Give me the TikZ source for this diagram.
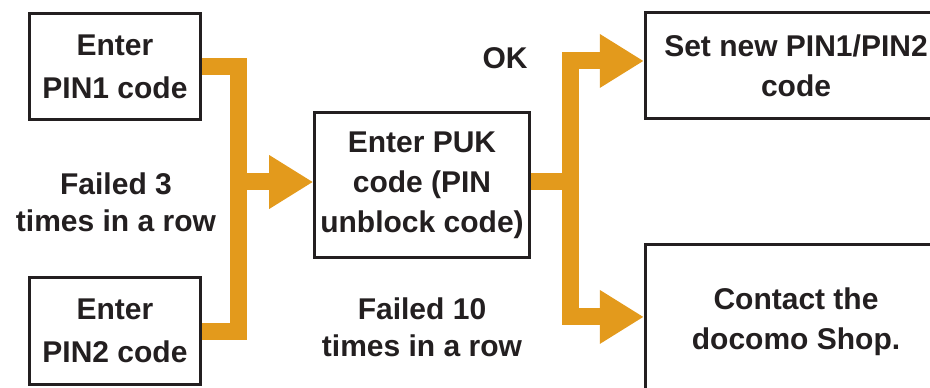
\documentclass[tikz,border=0pt]{standalone}
\usepackage{fontspec}
\setmainfont{Liberation Sans}
\usetikzlibrary{arrows.meta}
\definecolor{pinorange}{HTML}{E39A1C}
\definecolor{pinblack}{HTML}{231F20}

\begin{document}
\begin{tikzpicture}[
  x=0.75pt, y=-0.75pt,
  font=\fontsize{22.5}{30}\selectfont\bfseries, text=pinblack,
  box/.style={draw=pinblack, line width=2.25pt, minimum width=128pt,
    minimum height=80pt, align=center, inner sep=2pt},
  band/.style={draw=pinorange, line width=12.75pt},
  arr/.style={band, -{Triangle[length=33pt, width=38pt]}},
  lbl/.style={align=center, font=\fontsize{22.5}{27.5}\selectfont\bfseries}
]
\useasboundingbox (0,0) rectangle (930,388);
\node[box, font=\fontsize{22.5}{32}\selectfont\bfseries] (pin1) at (115,66.5) {Enter\\PIN1 code};
\node[box, font=\fontsize{22.5}{32}\selectfont\bfseries] (pin2) at (115,331) {Enter\\PIN2 code};
\node[box, minimum width=161pt, minimum height=109pt] (puk) at (422,185) {Enter PUK\\code (PIN\\unblock code)};
\node[box, minimum width=226pt] (setpin) at (796,65.5) {Set new PIN1/PIN2\\code};
\node[box, minimum width=226pt, minimum height=116pt] (shop) at (796,322) {Contact the\\docomo Shop.};
\node[lbl] (ok) at (505,58) {OK};
\node[lbl] (fail3) at (116,202) {Failed 3\\times in a row};
\node[lbl] (fail10) at (422,327) {Failed 10\\times in a row};
\coordinate (lbar) at (238,182);
\coordinate (rbar) at (570,182);
\draw[band] (pin1.east) -| (lbar) |- (pin2.east);
\draw[arr] (lbar) -- (puk.west |- lbar);
\draw[band] (puk.east |- rbar) -- (rbar);
\draw[arr] (rbar) |- ([yshift=3.4pt]setpin.west);
\draw[arr] (rbar) |- ([yshift=3.8pt]shop.west);
\end{tikzpicture}
\end{document}
